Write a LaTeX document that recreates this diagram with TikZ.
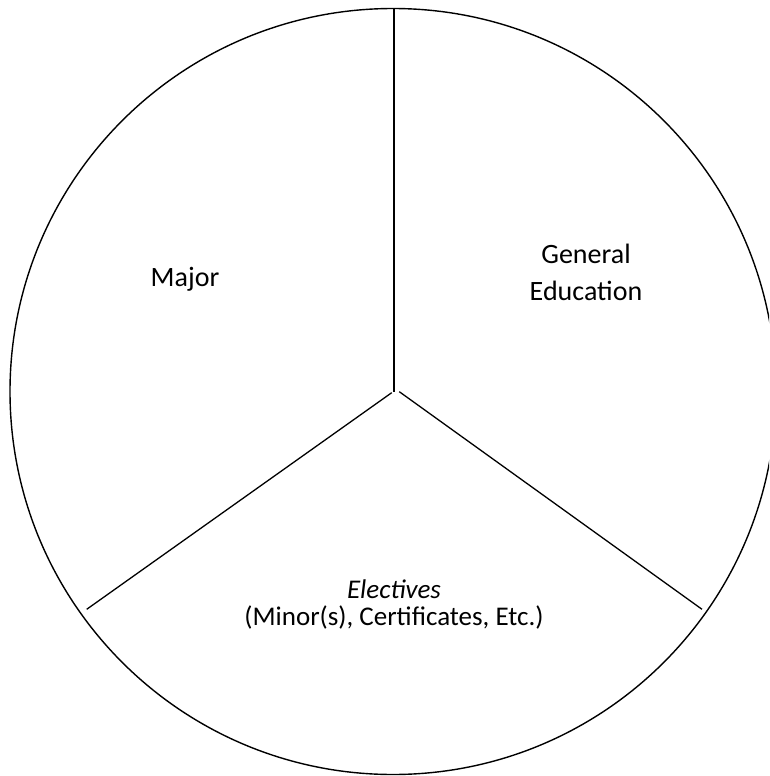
\documentclass[tikz,border=0pt]{standalone}
\usepackage{fontspec}
\setmainfont{Carlito}
\begin{document}
\begin{tikzpicture}[x=1pt,y=-1pt,
  divider/.style={draw=black,line width=1.3pt},
  label/.style={inner sep=0pt,align=center,anchor=base}]
\useasboundingbox (0,0) rectangle (769,776);
\clip (0,0) rectangle (769,776);
\node[circle,draw=black,line width=1.4pt,minimum size=766pt,inner sep=0pt] (c) at (393,391.5) {};
\coordinate (top) at (394,9);
\coordinate (vend) at (394,392);
\coordinate (lstart) at (391.7,392.7);
\coordinate (lend) at (86.7,609.3);
\coordinate (rstart) at (399.3,391.7);
\coordinate (rend) at (702,609.3);
\draw[divider] (top) -- (vend);
\draw[divider] (lstart) -- (lend);
\draw[divider] (rstart) -- (rend);
\node[label,font=\fontsize{28}{37}\selectfont] (major) at (185,286) {Major};
\node[label,font=\fontsize{28}{37}\selectfont] (gened) at (586,300) {General\\Education};
\node[label,font=\fontsize{27}{27}\selectfont] (elect) at (394,625) {\textit{Electives}\\(Minor(s), Certificates, Etc.)};
\end{tikzpicture}
\end{document}
